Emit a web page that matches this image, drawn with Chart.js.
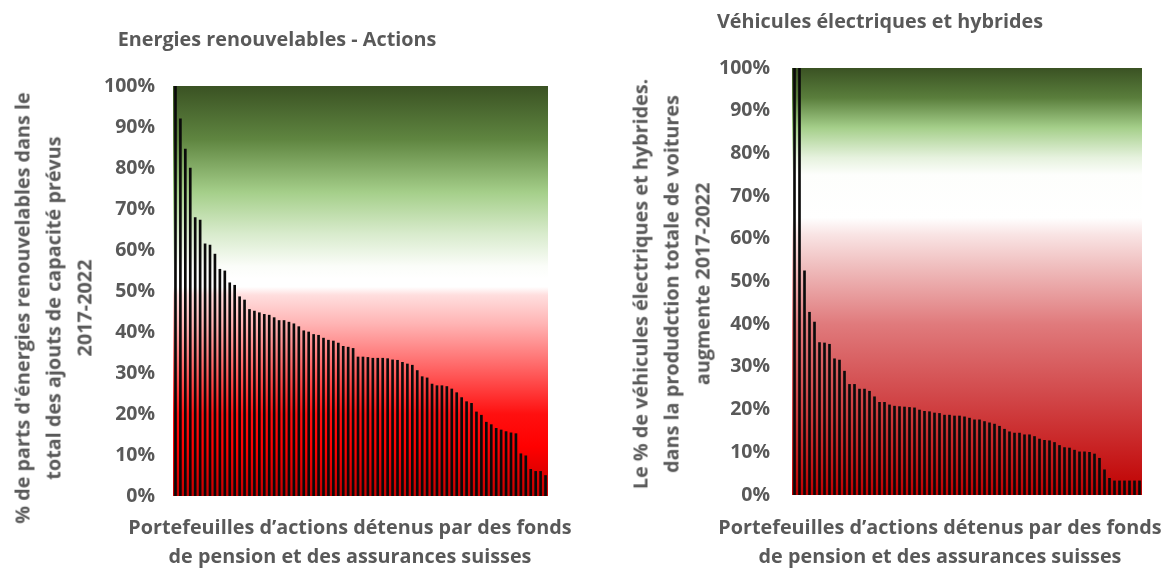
<!DOCTYPE html>
<html>
<head>
<meta charset="utf-8">
<script src="https://cdn.jsdelivr.net/npm/chart.js@4.4.0/dist/chart.umd.min.js"></script>
<style>
  body { margin: 0; width: 1172px; height: 568px; background: #fff; position: relative; overflow: hidden;
         font-family: "Open Sans", sans-serif; font-weight: bold; color: #595959; }
  .pane { position: absolute; top: 0; width: 586px; height: 568px; }
  .t  { position: absolute; white-space: nowrap; font-size: 19.8px; transform: translate(-50%, -50%); }
  .xt { position: absolute; white-space: nowrap; font-size: 19.8px; line-height: 29px; text-align: center; transform: translate(-50%, -50%); }
  .yt { position: absolute; white-space: nowrap; font-size: 19.8px; line-height: 31px; text-align: center; transform: translate(-50%, -50%) rotate(-90deg); }
</style>
</head>
<body>
<div class="pane" style="left:0"><canvas id="energies" width="586" height="568"></canvas></div>
<div class="pane" style="left:586px"><canvas id="vehicules" width="586" height="568"></canvas></div>

<div class="t" style="left:277px;top:38px">Energies renouvelables - Actions</div>
<div class="t" style="left:880px;top:20px">Véhicules électriques et hybrides</div>

<div class="yt" style="left:53px;top:308px">% de parts d'énergies renouvelables dans le<br>total des ajouts de capacité prévus<br>2017-2022</div>
<div class="yt" style="left:671px;top:284px">Le % de véhicules électriques et hybrides.<br>dans la produdction totale de voitures<br>augmente 2017-2022</div>

<div class="xt" style="left:350px;top:541px">Portefeuilles d’actions détenus par des fonds<br>de pension et des assurances suisses</div>
<div class="xt" style="left:940px;top:541px">Portefeuilles d’actions détenus par des fonds<br>de pension et des assurances suisses</div>

<script>
// share of renewables in planned capacity additions, one value per equity portfolio (%)
const energyShares = [
  100, 92, 84.6, 80, 67.9, 67.3, 61.5, 61.2, 59, 55.3, 54.9, 52, 51.4, 48.6, 47.8, 45.5,
  45.1, 44.7, 44.3, 44.1, 43.5, 42.8, 42.8, 42.4, 42, 41.3, 40.3, 40, 39.4, 39.2, 38.5, 38,
  37.8, 37.3, 36.5, 36.3, 36, 33.9, 33.9, 33.8, 33.6, 33.6, 33.6, 33.5, 33.2, 33.1, 32.6, 32.2,
  31.9, 30.6, 29.1, 28.8, 27.3, 26.9, 26.9, 26.7, 26.1, 25.2, 24, 23, 22.6, 20.5, 19.7, 18,
  17.4, 16.5, 16.1, 15.7, 15.4, 15.2, 10.3, 9.8, 6.5, 6, 6, 5
];

// share of electric & hybrid vehicles in total car production (%)
const evShares = [
  100, 100, 52.5, 42.8, 40.5, 35.7, 35.6, 35.3, 31.9, 31.6, 29, 25.9, 25.9, 24.8, 24.8, 24.3,
  23, 21.7, 21.7, 21.1, 20.8, 20.7, 20.6, 20.5, 20.4, 19.9, 19.6, 19.5, 19.2, 19.1, 18.7, 18.7,
  18.5, 18.5, 18.3, 18, 17.6, 17.6, 17.2, 16.9, 16.6, 16.1, 15.4, 14.8, 14.5, 14.5, 14.1, 14.1,
  13.7, 13.1, 12.8, 12.7, 12.3, 11.6, 11.1, 11, 10.5, 10.1, 10.1, 10, 9.6, 8.6, 5.9, 3.9,
  3.3, 3.3, 3.3, 3.3, 3.3, 3.3
];

const yMin = 0;
const yMax = 100;
const yStep = 10;

// background colour bands, top (100%) -> bottom (0%)
const energyStops = [
  [0, '#3a5223'], [0.13, '#5f8540'], [0.26, '#a5cf8a'], [0.36, '#d8ebcc'], [0.44, '#fbfdf9'],
  [0.47, '#ffffff'], [0.49, '#ffffff'], [0.51, '#ffdede'], [0.58, '#ffb4b4'], [0.68, '#ff6a6a'],
  [0.8, '#ff1010'], [0.88, '#ff0000'], [1, '#c40000']
];
const evStops = [
  [0, '#3a5223'], [0.07, '#5a7e3c'], [0.14, '#a5cf8a'], [0.21, '#e6f2de'], [0.25, '#fdfefc'],
  [0.35, '#ffffff'], [0.39, '#f9e4e4'], [0.46, '#f0c0c0'], [0.6, '#e07a7c'], [0.76, '#d24a4c'],
  [1, '#c00000']
];

const gradientBg = {
  id: 'gradientBg',
  beforeDatasetsDraw(chart, args, opts) {
    const { ctx, chartArea: a } = chart;
    const g = ctx.createLinearGradient(0, a.top, 0, a.bottom);
    opts.stops.forEach(([p, c]) => g.addColorStop(p, c));
    ctx.save();
    ctx.fillStyle = g;
    ctx.fillRect(a.left, a.top, a.right - a.left, a.bottom - a.top);
    ctx.restore();
  }
};

const makeChart = (id, values, stops, box) => {
  const ctx = document.getElementById(id).getContext('2d');
  return new Chart(ctx, {
    type: 'bar',
    plugins: [gradientBg],
    data: {
      labels: values.map((v, i) => i + 1),
      datasets: [{
        data: values,
        backgroundColor: '#0a0a0a',
        borderWidth: 0,
        barThickness: 2,
      }],
    },
    options: {
      responsive: false,
      animation: false,
      layout: { padding: { top: box.top, right: 586 - box.right, bottom: 0, left: 0 } },
      plugins: {
        legend: { display: false },
        tooltip: { enabled: false },
        gradientBg: { stops: stops },
      },
      scales: {
        x: {
          grid: { display: false },
          border: { display: false },
          ticks: { display: false },
          afterFit: (s) => { s.height = 568 - box.bottom; },
        },
        y: {
          min: yMin,
          max: yMax,
          grid: { display: false, drawTicks: false },
          border: { display: false },
          ticks: {
            stepSize: yStep,
            padding: box.tickPad,
            color: '#595959',
            font: { family: 'Open Sans', weight: 'bold', size: 19.5 },
            callback: (v) => v + '%',
          },
          afterFit: (s) => { s.width = box.left; },
        },
      },
    },
  });
};

makeChart('energies', energyShares, energyStops, { left: 173, right: 548, top: 86, bottom: 496, tickPad: 18 });
makeChart('vehicules', evShares, evStops, { left: 206, right: 556, top: 68, bottom: 495, tickPad: 22 });
</script>
</body>
</html>
